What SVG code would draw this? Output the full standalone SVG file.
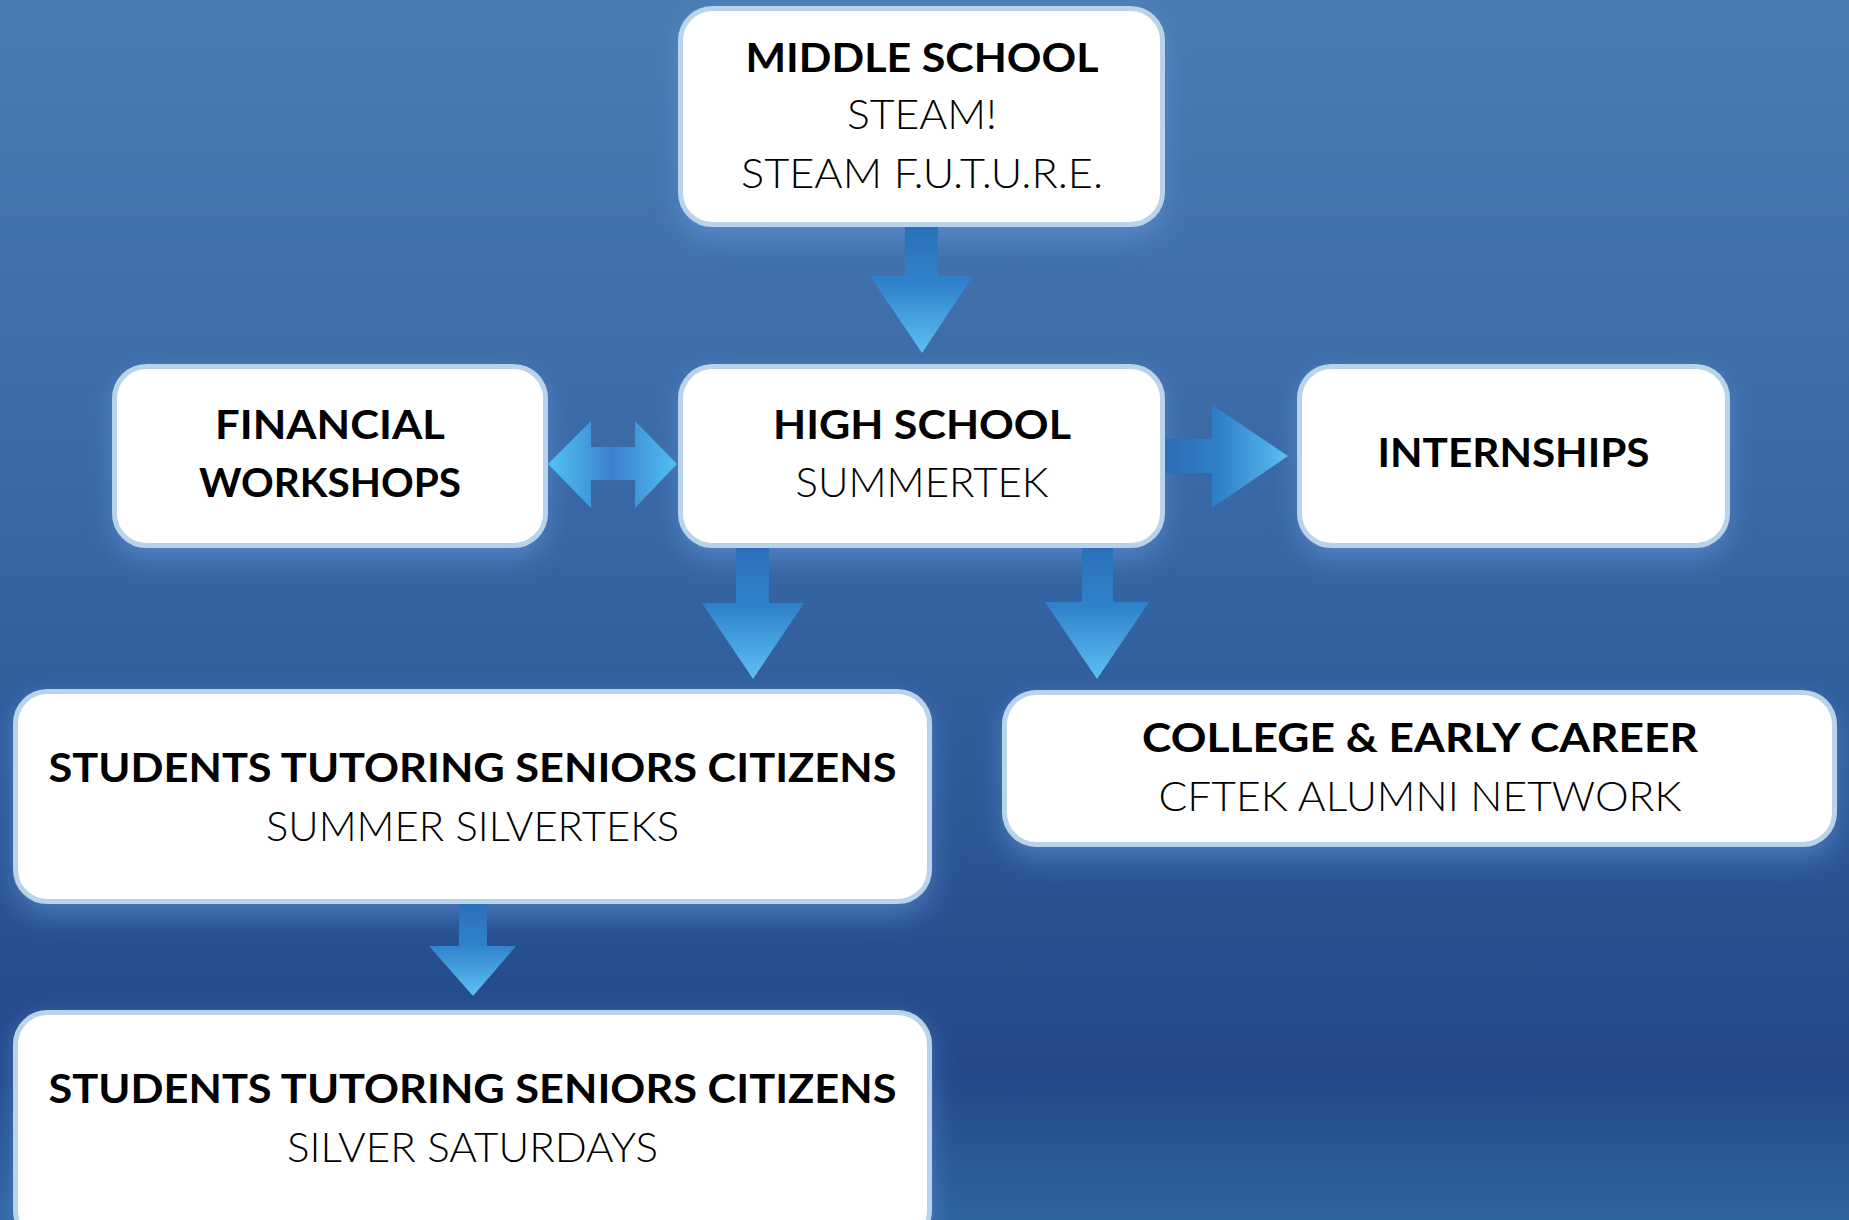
<svg xmlns="http://www.w3.org/2000/svg" width="1849" height="1220" viewBox="0 0 1849 1220">
<defs>
<linearGradient id="bg" x1="0" y1="0" x2="0" y2="1">
<stop offset="0" stop-color="#4a7bb3"/>
<stop offset="0.4" stop-color="#3a68a6"/>
<stop offset="0.62" stop-color="#2e5a9a"/>
<stop offset="0.88" stop-color="#22488a"/>
<stop offset="1" stop-color="#2f63a0"/>
</linearGradient>
<linearGradient id="gDown" x1="0" y1="0" x2="0" y2="1">
<stop offset="0" stop-color="#2b70b8"/>
<stop offset="0.45" stop-color="#2f82cc"/>
<stop offset="1" stop-color="#5ec0f3"/>
</linearGradient>
<linearGradient id="gRight" x1="0" y1="0" x2="1" y2="0">
<stop offset="0" stop-color="#2c6db4"/>
<stop offset="0.45" stop-color="#2f80c9"/>
<stop offset="1" stop-color="#5cbef3"/>
</linearGradient>
<linearGradient id="gBoth" x1="0" y1="0" x2="1" y2="0">
<stop offset="0" stop-color="#50c4f3"/>
<stop offset="0.5" stop-color="#3a80cf"/>
<stop offset="1" stop-color="#50c0f2"/>
</linearGradient>
<filter id="glow" x="-20%" y="-30%" width="140%" height="160%">
<feGaussianBlur stdDeviation="14"/>
</filter>
<filter id="soft" x="-5%" y="-5%" width="110%" height="110%">
<feGaussianBlur stdDeviation="0.6"/>
</filter>
<style>
.box{fill:#ffffff;stroke:#b9d4e8;stroke-width:5}
.halo{fill:#6b9fe0;opacity:0.55;filter:url(#glow)}
.b{font-family:Lato,"Noto Sans","Liberation Sans",sans-serif;font-weight:700;font-size:41px;fill:#000;text-anchor:middle}
.l{font-family:Lato,"Noto Sans","Liberation Sans",sans-serif;font-weight:300;font-size:41px;fill:#000;text-anchor:middle}
</style>
</defs>
<rect x="0" y="0" width="1849" height="1220" fill="url(#bg)"/>

<g id="halos">
<rect class="halo" x="680" y="16" width="483" height="222" rx="32"/>
<rect class="halo" x="114" y="374" width="432" height="184" rx="32"/>
<rect class="halo" x="680" y="374" width="483" height="184" rx="32"/>
<rect class="halo" x="1299" y="374" width="429" height="184" rx="32"/>
<rect class="halo" x="15" y="699" width="915" height="215" rx="32"/>
<rect class="halo" x="1004" y="700" width="831" height="157" rx="32"/>
<rect class="halo" x="15" y="1020" width="915" height="230" rx="32"/>
</g>

<g id="connectors" filter="url(#soft)">
<polygon fill="url(#gDown)" points="905,226 938,226 938,276 973,276 922,353 870,276 905,276"/>
<polygon fill="url(#gBoth)" points="548,464 591,421 591,447 635,447 635,421 677,464 635,508 635,480 591,480 591,508"/>
<polygon fill="url(#gRight)" points="1164,439 1212,439 1212,405 1288,456 1212,508 1212,473 1164,473"/>
<polygon fill="url(#gDown)" points="736,547 769,547 769,603 804,603 753,679 702,603 736,603"/>
<polygon fill="url(#gDown)" points="1082,547 1113,547 1113,602 1149,602 1097,679 1045,602 1082,602"/>
<polygon fill="url(#gDown)" points="459,903 487,903 487,946 516,946 473,996 429,946 459,946"/>
</g>

<g id="node-middle">
<rect class="box" x="680.5" y="8.5" width="482" height="216" rx="32"/>
<text class="b" x="922" y="72" textLength="353" lengthAdjust="spacingAndGlyphs">MIDDLE SCHOOL</text>
<text class="l" x="922" y="129" textLength="150" lengthAdjust="spacingAndGlyphs">STEAM!</text>
<text class="l" x="922" y="188" textLength="362" lengthAdjust="spacingAndGlyphs">STEAM F.U.T.U.R.E.</text>
</g>

<g id="node-financial">
<rect class="box" x="114.5" y="366.5" width="431" height="179" rx="32"/>
<text class="b" x="330" y="439" textLength="230" lengthAdjust="spacingAndGlyphs">FINANCIAL</text>
<text class="b" x="330" y="497" textLength="262" lengthAdjust="spacingAndGlyphs">WORKSHOPS</text>
</g>

<g id="node-high">
<rect class="box" x="680.5" y="366.5" width="482" height="179" rx="32"/>
<text class="b" x="922" y="439" textLength="298" lengthAdjust="spacingAndGlyphs">HIGH SCHOOL</text>
<text class="l" x="922" y="497" textLength="253" lengthAdjust="spacingAndGlyphs">SUMMERTEK</text>
</g>

<g id="node-internships">
<rect class="box" x="1299.5" y="366.5" width="428" height="179" rx="32"/>
<text class="b" x="1513.5" y="467" textLength="272" lengthAdjust="spacingAndGlyphs">INTERNSHIPS</text>
</g>

<g id="node-silverteks">
<rect class="box" x="15.5" y="691.5" width="914" height="210" rx="32"/>
<text class="b" x="472.5" y="782" textLength="848" lengthAdjust="spacingAndGlyphs">STUDENTS TUTORING SENIORS CITIZENS</text>
<text class="l" x="472.5" y="841" textLength="413" lengthAdjust="spacingAndGlyphs">SUMMER SILVERTEKS</text>
</g>

<g id="node-college">
<rect class="box" x="1004.5" y="692.5" width="830" height="152" rx="32"/>
<text class="b" x="1420" y="752" textLength="556" lengthAdjust="spacingAndGlyphs">COLLEGE &amp; EARLY CAREER</text>
<text class="l" x="1420" y="811" textLength="523" lengthAdjust="spacingAndGlyphs">CFTEK ALUMNI NETWORK</text>
</g>

<g id="node-saturdays">
<rect class="box" x="15.5" y="1012.5" width="914" height="230" rx="32"/>
<text class="b" x="472.5" y="1103" textLength="848" lengthAdjust="spacingAndGlyphs">STUDENTS TUTORING SENIORS CITIZENS</text>
<text class="l" x="472.5" y="1162" textLength="371" lengthAdjust="spacingAndGlyphs">SILVER SATURDAYS</text>
</g>
</svg>
